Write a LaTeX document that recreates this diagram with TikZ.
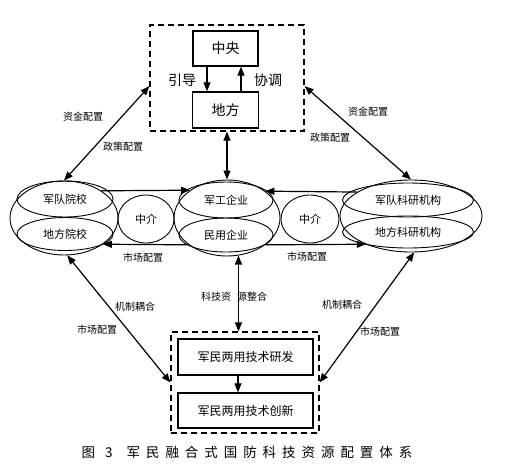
\documentclass[tikz,border=0pt]{standalone}
\usepackage{fontspec}
\setmainfont{Noto Sans CJK SC}
\newfontfamily\capfont[LetterSpace=44]{Noto Sans CJK SC}
\usepackage{tikz}
\usetikzlibrary{arrows.meta,shapes.geometric}

\begin{document}
\begin{tikzpicture}[x=1pt,y=-1pt,
  box/.style={draw,line width=1.3pt,inner sep=0pt},
  dbox/.style={draw,line width=1.2pt,dash pattern=on 6pt off 4pt,inner sep=0pt},
  ell/.style={draw,ellipse,line width=0.9pt,inner sep=0pt},
  arr/.style={line width=1.2pt,-{Triangle[length=9pt,width=7pt]}},
  darr/.style={line width=1.2pt,{Triangle[length=9pt,width=7pt]}-{Triangle[length=9pt,width=7pt]}},
  lab/.style={font=\fontsize{10}{10}\selectfont,inner sep=0pt}]
\useasboundingbox (0,0) rectangle (505,466);

\node at (227,78) (zf)[dbox,minimum width=154pt,minimum height=106pt]{};
\node at (225.5,48.5) (zy)[box,minimum width=65pt,minimum height=35pt,font=\fontsize{14}{14}\selectfont]{中央};
\node at (225.5,110) (df)[box,minimum width=66pt,minimum height=36pt,font=\fontsize{14}{14}\selectfont]{地方};
\draw[arr] ([xshift=-18.5pt]zy.south) -- ([xshift=-18.5pt]df.north);
\draw[arr] ([xshift=15.5pt]df.north) -- ([xshift=15.5pt]zy.south);
\node at (182,80) (yd)[font=\fontsize{14}{14}\selectfont,inner sep=0pt]{引导};
\node at (268,80) (xt)[font=\fontsize{14}{14}\selectfont,inner sep=0pt]{协调};

\node at (64,218) (yxo)[ell,minimum width=108pt,minimum height=74pt]{};
\node at (65,199) (yx1)[ell,minimum width=96pt,minimum height=36pt,font=\fontsize{11}{11}\selectfont]{军队院校};
\node at (65,234) (yx2)[ell,minimum width=96pt,minimum height=33pt,font=\fontsize{11}{11}\selectfont]{地方院校};
\node at (146,219) (zj1)[ell,minimum width=56pt,minimum height=48pt,font=\fontsize{11}{11}\selectfont]{中介};

\node at (227,218) (qyo)[ell,minimum width=106pt,minimum height=76pt]{};
\node at (226,200) (qy1)[ell,minimum width=94pt,minimum height=36pt,font=\fontsize{11}{11}\selectfont]{军工企业};
\node at (226,235) (qy2)[ell,minimum width=94pt,minimum height=34pt,font=\fontsize{11}{11}\selectfont]{民用企业};
\node at (310,219) (zj2)[ell,minimum width=58pt,minimum height=48pt,font=\fontsize{11}{11}\selectfont]{中介};

\node at (411,216) (kyo)[ell,minimum width=142pt,minimum height=72pt]{};
\node at (408,200) (ky1)[ell,minimum width=131pt,minimum height=34pt,font=\fontsize{11}{11}\selectfont]{军队科研机构};
\node at (408,232) (ky2)[ell,minimum width=131pt,minimum height=32pt,font=\fontsize{11}{11}\selectfont]{地方科研机构};

\node at (245,382.5) (jm)[dbox,minimum width=148pt,minimum height=101pt]{};
\node at (245.5,357) (yf)[box,minimum width=135pt,minimum height=36pt,font=\fontsize{12}{12}\selectfont]{军民两用技术研发};
\node at (245.5,410.5) (cx)[box,minimum width=135pt,minimum height=35pt,font=\fontsize{12}{12}\selectfont]{军民两用技术创新};
\draw[arr] ([xshift=-7.5pt]yf.south) -- ([xshift=-7.5pt]cx.north);

\draw[arr] (yxo.36) -- (qyo.143);
\draw[arr] (qyo.215) -- (yxo.-34);
\draw[arr] (kyo.156) -- (qyo.35);
\draw[arr] (qyo.-35) -- (kyo.212);
\node at (143,258) (sc1)[lab]{市场配置};
\node at (307,257) (sc2)[lab]{市场配置};

\draw[darr] (zf.186) -- (yxo.north);
\draw[darr] (zf.-6) -- (kyo.north);
\draw[darr] (zf.south) -- (qyo.north);
\node at (83,117) (zj3)[lab]{资金配置};
\node at (123,147) (zc1)[lab]{政策配置};
\node at (368,112) (zj4)[lab]{资金配置};
\node at (330,138) (zc2)[lab]{政策配置};

\draw[darr] (yxo.-85) -- (jm.west);
\draw[darr] (kyo.-85) -- (jm.east);
\draw[darr] (qyo.-73) -- (qyo.-73 |- jm.north);
\node at (234,297) (kj)[lab]{科技资\hspace{6pt}源整合};
\node at (135,307) (jz1)[lab]{机制耦合};
\node at (97,330) (sc3)[lab]{市场配置};
\node at (342,305) (jz2)[lab]{机制耦合};
\node at (380,332) (sc4)[lab]{市场配置};

\node at (247,452) (bt)[inner sep=0pt,font=\capfont\fontsize{13.5}{13.5}\selectfont]{图\hspace{10pt}3\hspace{14pt}军民融合式国防科技资源配置体系};
\end{tikzpicture}
\end{document}
